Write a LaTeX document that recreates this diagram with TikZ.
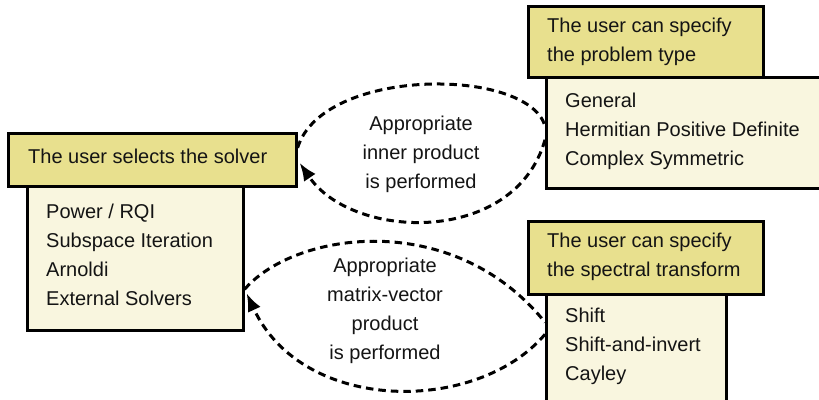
\documentclass[tikz,border=0pt]{standalone}
\usepackage{fontspec}
\setmainfont{Liberation Sans}
\usetikzlibrary{arrows.meta,calc}
\definecolor{headfill}{RGB}{232,224,142}
\definecolor{bodyfill}{RGB}{249,246,223}
\definecolor{inkcol}{RGB}{20,20,20}
\begin{document}
\begin{tikzpicture}[x=1pt,y=-1pt,
  boxbase/.style={draw=black, line width=2.6pt, rectangle, inner sep=0pt, anchor=north west},
  headbox/.style={boxbase, fill=headfill},
  bodybox/.style={boxbase, fill=bodyfill},
  txt/.style={font=\fontsize{20}{28.8}\selectfont, text=inkcol, align=left, anchor=base west, inner sep=0pt},
  midtxt/.style={font=\fontsize{20}{28.7}\selectfont, text=inkcol, align=center, anchor=base, inner sep=0pt},
  flow/.style={line width=3pt, dash pattern=on 7.5pt off 5pt},
  tip/.style={-{Latex[length=18pt,width=14pt]}}
]
\useasboundingbox (0,0) rectangle (819,399);
\fill[white] (0,0) rectangle (819,399);
\clip (0,0) rectangle (819,399);

% boxes
\node[bodybox, minimum width=216, minimum height=144] (lbody) at (26,185) {};
\node[headbox, minimum width=288, minimum height=53] (lhead) at (7,132) {};
\node[bodybox, minimum width=290, minimum height=111] (trbody) at (545,76) {};
\node[headbox, minimum width=235, minimum height=71] (trhead) at (527,5) {};
\node[bodybox, minimum width=180, minimum height=130] (brbody) at (545,293) {};
\node[headbox, minimum width=235, minimum height=73] (brhead) at (527,220) {};

% texts (anchor = baseline of the last line)
\node[txt] (lheadtxt) at (28,163) {The user selects the solver};
\node[txt] (lbodytxt) at (46,305) {Power / RQI\\Subspace Iteration\\Arnoldi\\External Solvers};
\node[txt] (trheadtxt) at (547,61.5) {The user can specify\\the problem type};
\node[txt, font=\fontsize{20}{29.2}\selectfont] (trbodytxt) at (565,165.5) {General\\Hermitian Positive Definite\\Complex Symmetric};
\node[txt] (brheadtxt) at (547,276) {The user can specify\\the spectral transform};
\node[txt] (brbodytxt) at (565,380) {Shift\\Shift-and-invert\\Cayley};
\node[midtxt] (lab1) at (421,188) {Appropriate\\inner product\\is performed};
\node[midtxt] (lab2) at (385,359) {Appropriate\\matrix-vector\\product\\is performed};

% connectors
\draw[flow] ([yshift=12pt]lhead.east) .. controls +(25,-81) and +(-18,-59) .. ([yshift=7pt]trbody.west);
\draw[flow,tip] ([yshift=-7pt]trbody.west) .. controls +(-30,106) and +(53,78) .. ([xshift=2pt,yshift=-3pt]lhead.east);
\draw[flow] ([yshift=-31pt]lbody.east) .. controls +(50,-58) and +(-92,-114) .. ([yshift=37pt]brbody.west);
\draw[flow,tip] ([yshift=25pt]brbody.west) .. controls +(-68,80) and +(56,121) .. ([xshift=2pt,yshift=-35pt]lbody.east);
\end{tikzpicture}
\end{document}
